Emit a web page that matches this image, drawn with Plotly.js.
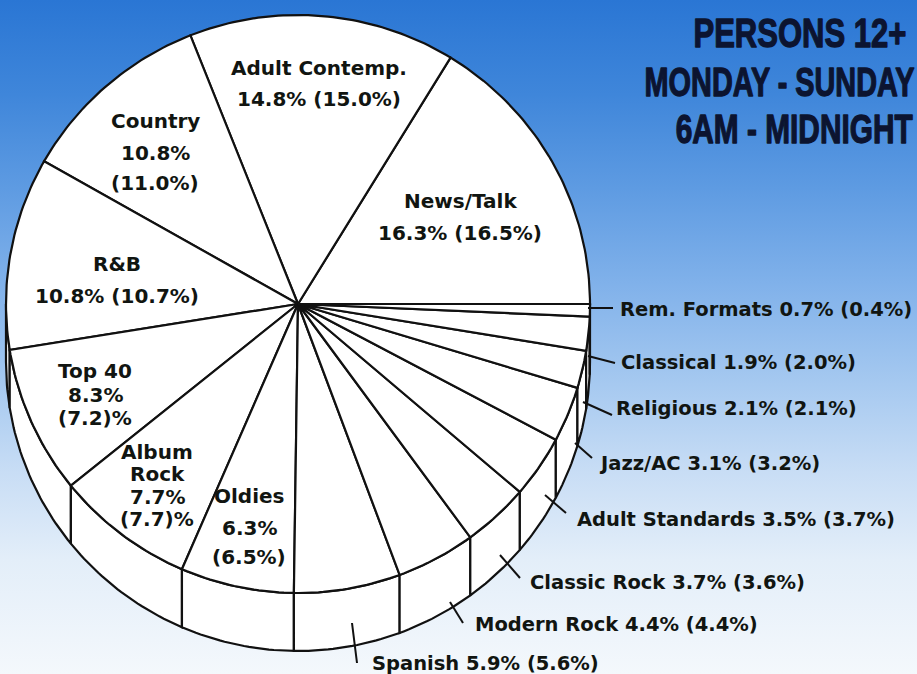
<!DOCTYPE html>
<html>
<head>
<meta charset="utf-8">
<script src="https://cdn.plot.ly/plotly-3.0.1.min.js"></script>
<style>
html,body{margin:0;padding:0;}
#chart{width:917px;height:674px;
background:linear-gradient(to bottom,#2a76d4 0%,#3f86da 14%,#5e9be2 28%,#80b1ea 42%,#a6c9f0 57%,#c8ddf5 70%,#e3eef9 83%,#f4f8fc 100%);}
</style>
</head>
<body>
<div id="chart"></div>
<script>
// ---- data (counter-clockwise from 3 o'clock) ----
const categories = ['News/Talk','Adult Contemp.','Country','R&B','Top 40','Album Rock','Oldies',
  'Spanish','Modern Rock','Classic Rock','Adult Standards','Jazz/AC','Religious','Classical','Rem. Formats'];
const share = [16.3,14.8,10.8,10.8,8.3,7.7,6.3,5.9,4.4,3.7,3.5,3.1,2.1,1.9,0.7];
const prior = [16.5,15.0,11.0,10.7,7.2,7.7,6.5,5.6,4.4,3.6,3.7,3.2,2.1,2.0,0.4];
const titleLines = ['PERSONS 12+','MONDAY - SUNDAY','6AM - MIDNIGHT'];

// ---- geometry ----
const CX=298, CY=304, RX=292, RY=289, DEPTH=58;
const total = share.reduce((s,v)=>s+v,0);
const D = Math.PI/180;
function rim(t,dy){return [CX+RX*Math.cos(t*D), CY-RY*Math.sin(t*D)+(dy||0)];}
function arc(t0,t1,dy){
  const n=Math.max(2,Math.ceil(Math.abs(t1-t0)/1));
  const p=[];
  for(let i=0;i<=n;i++){p.push(rim(t0+(t1-t0)*i/n,dy));}
  return p;
}
const LINE={color:'#111111',width:2.2};
const sides=[], tops=[];
let acc=0;
share.forEach((v,i)=>{
  const t0=acc/total*360; acc+=v; const t1=acc/total*360;
  const face=[[CX,CY],...arc(t0,t1,0),[CX,CY]];
  tops.push({type:'scatter',mode:'lines',x:face.map(p=>p[0]),y:face.map(p=>p[1]),
    fill:'toself',fillcolor:'#ffffff',line:LINE,name:categories[i],
    text:categories[i]+' '+v.toFixed(1)+'% ('+prior[i].toFixed(1)+'%)',hoverinfo:'text',showlegend:false});
  const s0=Math.max(t0,180), s1=Math.min(t1,360);
  if(s1>s0){
    const top=arc(s0,s1,0), bot=arc(s1,s0,DEPTH);
    const p=[...top,...bot,top[0]];
    sides.push({type:'scatter',mode:'lines',x:p.map(q=>q[0]),y:p.map(q=>q[1]),
      fill:'toself',fillcolor:'#ffffff',line:LINE,name:categories[i],hoverinfo:'skip',showlegend:false});
  }
});

// ---- labels ----
const LF={family:'DejaVu Sans, Verdana, sans-serif',size:20,color:'#111511'};
const RF={family:'DejaVu Sans, Verdana, sans-serif',size:19.5,color:'#111511'};
const anns=[];
function lab(t,x,y,anchor,font){anns.push({text:'<b>'+t+'</b>',x:x,y:y,xref:'x',yref:'y',showarrow:false,
  xanchor:anchor||'center',yanchor:'middle',font:font||LF});}
const f=v=>v.toFixed(1);
const pct=i=>f(share[i])+'%';
const par=i=>'('+f(prior[i])+'%)';
const parOut=i=>'('+f(prior[i])+')%';

lab(categories[1],319,68); lab(pct(1)+' '+par(1),319,99);
lab(categories[2],155,121); lab(pct(2),155,153); lab(par(2),155,183);
lab(categories[0],460,201); lab(pct(0)+' '+par(0),460,233);
lab(categories[3],117,264); lab(pct(3)+' '+par(3),117,296);
lab('Top 40',95,371); lab(pct(4),95,395); lab(parOut(4),95,418);
lab('Album',157,452); lab('Rock',157,474); lab(pct(5),157,497); lab(parOut(5),157,519);
lab(categories[6],249,496); lab(pct(6),249,528); lab(par(6),249,557);

const right=[[14,618,309],[13,619,362],[12,614,408],[11,597,463],[10,575,519],[9,528,582],[8,473,624],[7,370,663]];
right.forEach(r=>lab(categories[r[0]]+' '+pct(r[0])+' '+par(r[0]),r[1],r[2],'left',RF));

// title
const TF={family:'Liberation Sans, Arial, sans-serif',size:41,color:'#0c1430'};
[[0,908,33],[1,917,82],[2,915,129]].forEach(t=>anns.push({text:'<b>'+titleLines[t[0]]+'</b>',x:t[1],y:t[2],
  xref:'x',yref:'y',showarrow:false,xanchor:'right',yanchor:'middle',font:TF}));

// leader lines
const leaders=[[588,308,613,308],[588,356,615,363],[583,402,612,415],[575,443,592,458],
  [545,495,566,513],[500,555,520,578],[450,602,463,623],[352,623,357,663]];
const shapes=leaders.map(l=>({type:'line',xref:'x',yref:'y',x0:l[0],y0:l[1],x1:l[2],y1:l[3],
  line:{color:'#111111',width:2}}));

const layout={width:917,height:674,margin:{l:0,r:0,t:0,b:0},
  paper_bgcolor:'rgba(0,0,0,0)',plot_bgcolor:'rgba(0,0,0,0)',
  xaxis:{range:[0,917],visible:false,fixedrange:true},
  yaxis:{range:[674,0],visible:false,fixedrange:true},
  annotations:anns,shapes:shapes,showlegend:false};
Plotly.newPlot('chart',[...sides,...tops],layout,{displayModeBar:false,staticPlot:true}).then(()=>{
  // condense the title lines horizontally (the original uses a condensed display face)
  const targetW=[213,270,237];
  document.querySelectorAll('#chart .annotation text').forEach(t=>{
    const idx=titleLines.indexOf(t.textContent.trim());
    if(idx<0) return;
    const bb=t.getBBox();
    if(!bb.width) return;
    const r=bb.x+bb.width, s=targetW[idx]/bb.width;
    const old=t.getAttribute('transform')||'';
    t.setAttribute('transform',(old+' translate('+r+',0) scale('+s+',1) translate('+(-r)+',0)').trim());
    t.style.stroke='#0c1430';
    t.style.strokeWidth='1.3px';
    t.style.strokeLinejoin='round';
  });
});
</script>
</body>
</html>
